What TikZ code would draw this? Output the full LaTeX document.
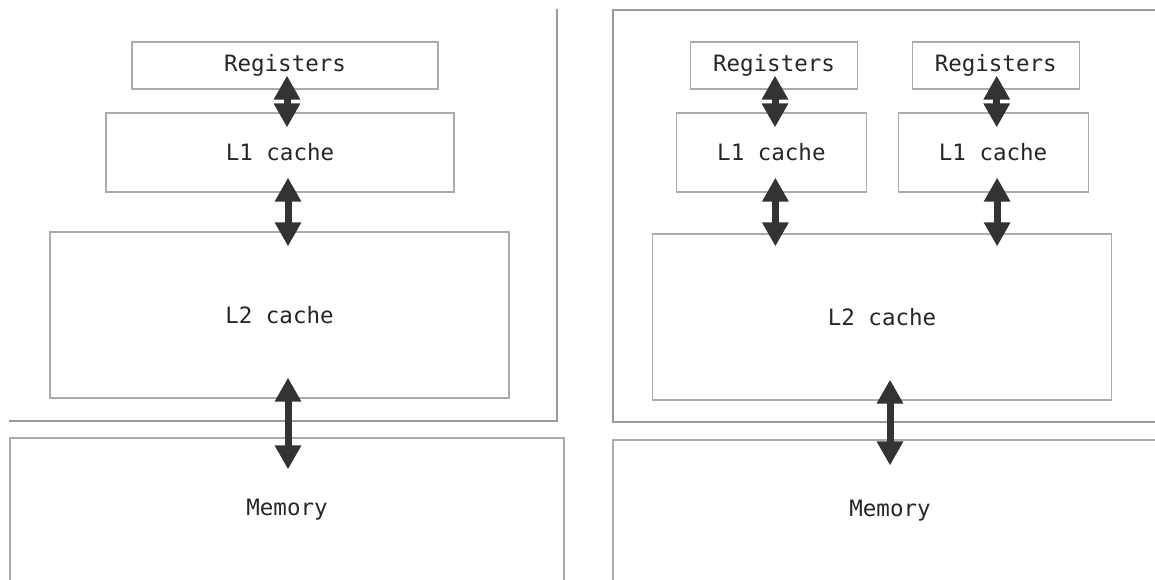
\documentclass[tikz,border=0pt]{standalone}
\usepackage{fontspec}
\setmonofont{DejaVu Sans Mono}
\usetikzlibrary{arrows.meta}
\definecolor{boxgray}{HTML}{ABABAB}
\definecolor{framegray}{HTML}{9A9A9A}
\definecolor{arrowgray}{HTML}{333333}
\tikzset{
  unit/.style={draw=boxgray,line width=1.2pt,text=black!85,inner sep=0pt,
    font=\ttfamily\fontsize{22.5}{26}\selectfont},
  biarrow/.style={arrowgray,line width=7pt,
    {Triangle[width=25pt,length=24pt]}-{Triangle[width=25pt,length=24pt]}},
  frame/.style={framegray,line width=1.3pt}
}
\begin{document}
\begin{tikzpicture}[x=1pt,y=-1pt]
\useasboundingbox (0,0) rectangle (1155,580);
\clip (0,0) rectangle (1155,580);
\fill[white] (0,0) rectangle (1155,580);
% one core
\draw[frame] (557,9) -- (557,421) -- (9,421);
\node[unit,minimum width=306pt,minimum height=47pt] (regA) at (285,65.5) {Registers};
\node[unit,minimum width=348pt,minimum height=79pt] (l1A) at (280,152.5) {L1 cache};
\node[unit,minimum width=459pt,minimum height=166pt] (l2A) at (279.5,315) {L2 cache};
\node[unit,minimum width=554pt,minimum height=144pt] (memA) at (287,510) {Memory};
\draw[biarrow,shorten <=-14pt,shorten >=-15pt] ([xshift=2pt]regA.south) -- ([xshift=2pt]regA.south |- l1A.north);
\draw[biarrow,shorten <=-15pt,shorten >=-15pt] ([xshift=8pt]l1A.south) -- ([xshift=8pt]l1A.south |- l2A.north);
\draw[biarrow,shorten <=-21pt,shorten >=-32pt] ([xshift=8.5pt]l2A.south) -- ([xshift=8.5pt]l2A.south |- memA.north);
% two cores
\draw[frame] (1160,10) -- (613,10) -- (613,422) -- (1160,422);
\node[unit,minimum width=459.5pt,minimum height=166pt] (l2B) at (882,317) {L2 cache};
\node[unit,minimum width=554pt,minimum height=142pt] (memB) at (890,511) {Memory};
\foreach \i/\dx in {1/0,2/221.7}{
  \node[unit,minimum width=167pt,minimum height=47pt] (regB\i) at (774+\dx,65.5) {Registers};
  \node[unit,minimum width=190pt,minimum height=79pt] (l1B\i) at (771.4+\dx,152.5) {L1 cache};
  \draw[biarrow,shorten <=-14pt,shorten >=-15pt] ([xshift=1pt]regB\i.south) -- ([xshift=1pt]regB\i.south |- l1B\i.north);
  \draw[biarrow,shorten <=-15pt,shorten >=-13pt] ([xshift=4pt]l1B\i.south) -- ([xshift=4pt]l1B\i.south |- l2B.north);
}
\draw[biarrow,shorten <=-21pt,shorten >=-26pt] ([xshift=8pt]l2B.south) -- ([xshift=8pt]l2B.south |- memB.north);
\end{tikzpicture}
\end{document}
